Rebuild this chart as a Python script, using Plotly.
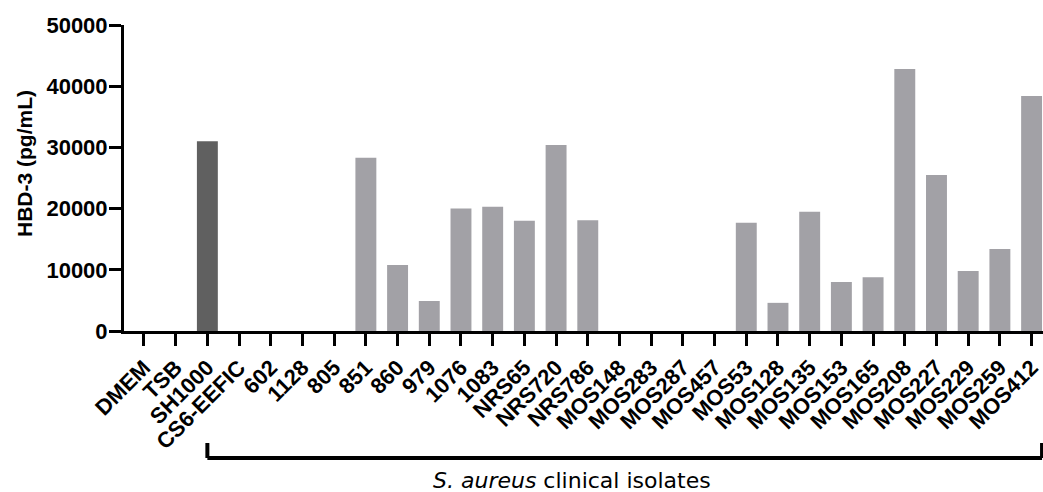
import plotly.graph_objects as go

# HBD-3 secretion by keratinocytes after exposure to culture supernatants
categories = ["DMEM", "TSB", "SH1000", "CS6-EEFIC", "602", "1128", "805", "851",
              "860", "979", "1076", "1083", "NRS65", "NRS720", "NRS786",
              "MOS148", "MOS283", "MOS287", "MOS457", "MOS53", "MOS128",
              "MOS135", "MOS153", "MOS165", "MOS208", "MOS227", "MOS229",
              "MOS259", "MOS412"]
hbd3_pg_ml = [0, 0, 31000, 0, 0, 0, 0, 28300,
              10800, 4900, 20000, 20300, 18000, 30400, 18100,
              0, 0, 0, 0, 17700, 4600,
              19500, 8000, 8800, 42800, 25500, 9800,
              13400, 38400]
reference_strain = "SH1000"
y_ticks = [0, 10000, 20000, 30000, 40000, 50000]

DARK = "#606060"
LIGHT = "#A2A1A6"
colors = [DARK if c == reference_strain else LIGHT for c in categories]

ARIAL = "Liberation Sans, Arial"

fig = go.Figure(go.Bar(
    x=list(range(len(categories))),
    y=hbd3_pg_ml,
    marker=dict(color=colors, line=dict(width=0)),
    width=0.66,
))

W, H = 1043, 492
left, top, bottom = 124, 25, 161
plot_h = H - top - bottom

fig.update_layout(
    width=W, height=H,
    margin=dict(l=left, r=0, t=top, b=bottom),
    plot_bgcolor="white", paper_bgcolor="white",
    showlegend=False,
    font=dict(family=ARIAL, color="black"),
)

fig.update_xaxes(
    range=[-0.63, 28.36],
    tickmode="array",
    tickvals=list(range(len(categories))),
    ticktext=[f"<b>{c}</b>" for c in categories],
    tickangle=-45,
    tickfont=dict(family=ARIAL, size=22, color="black"),
    showline=True, linecolor="black", linewidth=3,
    ticks="outside", ticklen=12, tickwidth=3, tickcolor="black",
    showgrid=False, zeroline=False,
)
fig.update_yaxes(
    range=[0, 50000],
    tickmode="array",
    tickvals=y_ticks,
    ticktext=[f"<b>{v}</b>" for v in y_ticks],
    tickfont=dict(family=ARIAL, size=22, color="black"),
    ticklabelstandoff=-3,
    showline=True, linecolor="black", linewidth=3,
    ticks="outside", ticklen=12, tickwidth=3, tickcolor="black",
    showgrid=False, zeroline=False,
)


def py(pixel_y):
    return (H - bottom - pixel_y) / plot_h


# y-axis title
fig.add_annotation(
    xref="paper", yref="paper",
    x=(24 - left) / (W - left), y=py(164),
    text="<b>HBD-3 (pg/mL)</b>", textangle=-90, showarrow=False,
    font=dict(family=ARIAL, size=21, color="black"),
    xanchor="center", yanchor="middle",
)

# bracket grouping the clinical isolates
x_start = categories.index(reference_strain)
x_end = len(categories) - 1 + 0.33
bar_y, end_y = py(458), py(443)
for x0, y0, x1, y1 in [(x_start, bar_y, x_end, bar_y),
                       (x_start, bar_y, x_start, end_y),
                       (x_end, bar_y, x_end, end_y)]:
    fig.add_shape(type="line", xref="x", yref="paper",
                  x0=x0, y0=y0, x1=x1, y1=y1,
                  line=dict(color="black", width=4))

fig.add_annotation(
    xref="paper", yref="paper",
    x=(572 - left) / (W - left), y=py(480),
    text="<i>S. aureus</i> clinical isolates", showarrow=False,
    font=dict(family="DejaVu Sans", size=22, color="black"),
    xanchor="center", yanchor="middle",
)

fig.write_html("out.html")
